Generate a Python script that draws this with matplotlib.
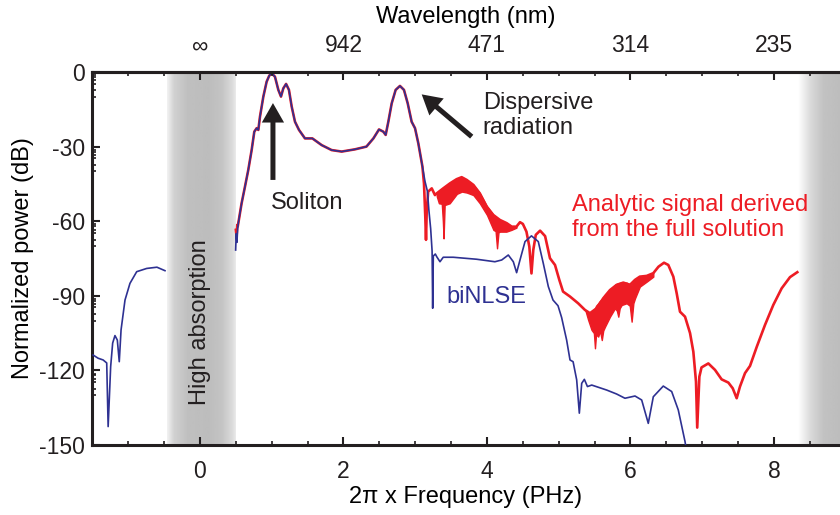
import matplotlib
matplotlib.use("Agg")
import matplotlib.pyplot as plt
import numpy as np

NAVY = "#2E3192"
RED = "#ED1C24"
INK = "#231F20"

plt.rcParams["font.family"] = ["Liberation Sans", "DejaVu Sans"]
plt.rcParams["axes.unicode_minus"] = False
plt.rcParams["text.color"] = INK
plt.rcParams["axes.edgecolor"] = INK
plt.rcParams["xtick.color"] = INK
plt.rcParams["ytick.color"] = INK

# biNLSE below zero frequency
blue_neg_x = [-1.49, -1.42, -1.35, -1.30, -1.28, -1.245, -1.217, -1.185, -1.152, -1.125,
              -1.10, -1.045, -0.976, -0.882, -0.743, -0.60, -0.488]
blue_neg_y = [-113.8, -115.1, -115.8, -117.0, -142.6, -118.5, -109.0, -106.0, -107.8, -116.5,
              -103.7, -91.7, -85.0, -80.3, -79.0, -78.5, -79.9]

# start of each curve just above the absorption band
blue_head_x = [0.497, 0.505, 0.515, 0.525]
blue_head_y = [-71.6, -65.0, -68.5, -63.0]
red_head_x = [0.50, 0.51, 0.52, 0.527]
red_head_y = [-63.5, -66.0, -61.5, -62.0]

# soliton + dispersive wave, where both curves overlap
shared_x = [0.534, 0.58, 0.627, 0.673, 0.72, 0.757, 0.79, 0.813, 0.836, 0.883, 0.929, 0.965,
            0.999, 1.045, 1.092, 1.129, 1.161, 1.20, 1.24, 1.278, 1.324, 1.38, 1.463, 1.566,
            1.696, 1.835, 1.975, 2.16, 2.32, 2.417, 2.495, 2.555, 2.588, 2.625, 2.672, 2.727,
            2.787, 2.843, 2.895, 2.95, 2.997, 3.043, 3.10]
shared_y = [-60.8, -52.8, -46.1, -39.4, -31.4, -24.0, -22.6, -23.3, -18.0, -9.9, -3.9, -1.5,
            -0.5, -1.9, -7.2, -9.9, -6.6, -4.8, -7.2, -13.9, -20.0, -23.3, -26.7, -26.7,
            -29.4, -31.4, -32.0, -31.1, -30.0, -26.7, -23.1, -24.0, -25.3, -20.0, -12.6, -7.2,
            -5.6, -7.2, -12.6, -20.0, -22.6, -28.7, -38.0]

# biNLSE tail
blue_tail_x = [3.136, 3.17, 3.19, 3.215, 3.235, 3.243, 3.252, 3.28, 3.30, 3.345, 3.39, 3.53,
               3.856, 4.11, 4.205, 4.297, 4.367, 4.413, 4.46, 4.53, 4.62, 4.715, 4.785, 4.855,
               4.92, 4.99, 5.04, 5.11, 5.157, 5.20, 5.25, 5.287, 5.32, 5.357, 5.40, 5.46,
               5.668, 5.807, 5.923, 6.063, 6.156, 6.248, 6.318, 6.457, 6.574, 6.666, 6.76, 6.80]
blue_tail_y = [-44.0, -48.0, -55.5, -63.0, -72.0, -95.0, -74.0, -73.2, -74.3, -76.3, -74.5, -74.5,
               -75.3, -76.3, -75.6, -73.6, -76.3, -80.7, -75.6, -68.2, -65.9, -68.2, -77.0, -86.3,
               -91.7, -94.0, -98.7, -107.8, -115.8, -116.5, -123.8, -137.2, -125.2, -123.6, -126.5, -125.9,
               -127.9, -129.5, -131.2, -130.3, -131.9, -141.3, -130.6, -126.3, -128.5, -135.9, -148.6, -156.0]

# analytic signal tail
red_tail_x = [3.122, 3.14, 3.15, 3.16, 3.18, 3.23, 3.275, 3.30, 3.39, 3.484, 3.577, 3.647,
              3.717, 3.81, 3.90, 3.996, 4.088, 4.18, 4.275, 4.345, 4.41, 4.46, 4.50, 4.55,
              4.59, 4.62, 4.645, 4.68, 4.74, 4.81, 4.878, 4.948, 5.008, 5.06, 5.157, 5.27,
              5.366, 5.435, 5.53, 5.62, 5.714, 5.807, 5.90, 5.993, 6.063, 6.13, 6.226, 6.318,
              6.39, 6.467, 6.527, 6.597, 6.644, 6.69, 6.76, 6.83, 6.876, 6.913, 6.93, 6.96,
              6.99, 7.085, 7.178, 7.27, 7.364, 7.425, 7.48, 7.526, 7.596, 7.666, 7.76, 7.875,
              7.99, 8.107, 8.223, 8.325]
red_tail_y = [-44.8, -58.0, -67.5, -56.0, -48.1, -46.8, -49.5, -48.8, -46.8, -44.8, -43.1, -42.3,
              -43.4, -45.4, -48.8, -54.1, -57.5, -59.5, -60.8, -62.2, -62.2, -60.4, -61.1, -64.2,
              -70.2, -81.0, -71.6, -65.5, -63.8, -66.0, -74.9, -77.6, -83.6, -88.3, -90.3, -93.0,
              -95.7, -97.0, -95.0, -91.0, -87.7, -85.6, -84.7, -85.6, -83.6, -82.3, -82.0, -80.9,
              -78.3, -76.7, -77.6, -82.3, -89.0, -96.4, -98.4, -105.0, -112.5, -124.5, -143.0, -122.5,
              -118.8, -117.2, -119.8, -123.6, -124.9, -127.2, -131.2, -126.5, -121.1, -118.2, -110.5, -101.7,
              -93.7, -87.0, -82.5, -80.5]

# fast oscillations of the analytic signal, drawn as envelope bands
noise1_x = [3.30, 3.33, 3.37, 3.385, 3.395, 3.41, 3.48, 3.58, 3.65, 3.72, 3.81, 3.90,
            4.00, 4.09, 4.12, 4.14, 4.16, 4.18, 4.27, 4.34, 4.41]
noise1_hi = [-48.8, -48.0, -47.2, -46.9, -46.7, -46.4, -44.8, -43.0, -42.3, -43.4, -45.4, -48.8,
             -54.1, -57.5, -58.2, -58.8, -59.2, -59.5, -60.8, -62.2, -62.2]
noise1_lo = [-50.0, -52.8, -53.0, -60.0, -66.9, -53.5, -52.8, -49.0, -48.1, -48.5, -49.5, -52.8,
             -57.5, -63.5, -64.0, -70.9, -64.5, -64.2, -64.2, -63.5, -62.6]

noise2_x = [5.37, 5.41, 5.457, 5.49, 5.505, 5.52, 5.55, 5.575, 5.60, 5.62, 5.645, 5.714,
            5.784, 5.81, 5.83, 5.85, 5.877, 5.946, 5.99, 6.016, 6.04, 6.063, 6.13, 6.226, 6.318]
noise2_hi = [-95.7, -96.8, -96.5, -95.5, -95.0, -94.0, -93.0, -92.0, -91.5, -91.0, -89.5, -87.7,
             -85.6, -85.2, -85.0, -84.8, -84.7, -84.7, -85.4, -85.6, -84.5, -83.6, -82.3, -82.0, -80.9]
noise2_lo = [-95.7, -99.7, -103.7, -105.0, -111.1, -105.5, -106.4, -104.0, -107.8, -104.0, -102.4, -98.4,
             -95.0, -96.0, -98.4, -95.0, -93.7, -93.0, -94.0, -100.4, -93.0, -91.0, -86.3, -84.3, -82.3]

top_ticks = [0, 2, 4, 6, 8]
top_labels = ["\u221e", "942", "471", "314", "235"]

fig = plt.figure(figsize=(8.4, 5.15), dpi=100)
ax = fig.add_axes([92 / 840, 70 / 515, 748 / 840, 373 / 515])
XMIN, XMAX = -1.505, 8.92

# absorption bands (gradient shading)
band = np.interp(np.linspace(0, 1, 200), [0, 0.1, 0.3, 0.6, 0.8, 0.95, 1.0],
                 [0.95, 0.82, 0.75, 0.74, 0.77, 0.86, 0.92])
ax.imshow(band[np.newaxis, :], extent=[-0.46, 0.49, -150, 0], aspect="auto",
          cmap="gray", vmin=0, vmax=1, zorder=0, interpolation="bilinear")
band_r = np.interp(np.linspace(0, 1, 200), [0, 0.3, 0.6, 1.0], [1.0, 0.85, 0.76, 0.74])
ax.imshow(band_r[np.newaxis, :], extent=[8.33, XMAX, -150, 0], aspect="auto",
          cmap="gray", vmin=0, vmax=1, zorder=0, interpolation="bilinear")

red_x = red_head_x + shared_x + red_tail_x
red_y = red_head_y + shared_y + red_tail_y
blue_x = blue_head_x + shared_x + blue_tail_x
blue_y = blue_head_y + shared_y + blue_tail_y

ax.fill_between(noise1_x, noise1_lo, noise1_hi, color=RED, lw=1.0, zorder=2)
ax.fill_between(noise2_x, noise2_lo, noise2_hi, color=RED, lw=1.0, zorder=2)
ax.plot(red_x, red_y, color=RED, lw=1.9, zorder=2, solid_joinstyle="round")
ax.plot(blue_x, blue_y, color=NAVY, lw=1.2, zorder=3)
ax.plot(blue_neg_x, blue_neg_y, color=NAVY, lw=1.2, zorder=3)

ax.set_xlim(XMIN, XMAX)
ax.set_ylim(-150, 0)

ax.set_xticks([0, 2, 4, 6, 8])
ax.set_xticks(np.arange(-1.5, 9.0, 0.5), minor=True)
ax.set_yticks([0, -30, -60, -90, -120, -150])
ax.set_yticks([m + o for m in [0, -30, -60, -90, -120] for o in [-1.3, -2.0, -3.4, -4.7, -7.4, -10.0]],
              minor=True)
ax.tick_params(axis="both", which="major", direction="in", length=6, width=1.5,
               labelsize=16.5)
ax.tick_params(axis="x", which="major", pad=11)
ax.tick_params(axis="y", which="major", pad=5)
ax.tick_params(axis="both", which="minor", direction="in", length=3, width=1.2)
ax.tick_params(axis="x", top=False)

for side in ["left", "bottom", "top"]:
    ax.spines[side].set_linewidth(2.2)
ax.spines["right"].set_visible(False)

ax.set_xlabel("2\u03c0 x Frequency (PHz)", fontsize=17, labelpad=2)
ax.set_ylabel("Normalized power (dB)", fontsize=17)
ax.yaxis.set_label_coords(-0.078, 0.5)

ax2 = ax.twiny()
ax2.set_xlim(XMIN, XMAX)
ax2.set_xticks(top_ticks)
ax2.set_xticklabels(top_labels)
ax2.set_xticks(np.arange(-1.5, 9.0, 0.5), minor=True)
ax2.tick_params(axis="x", which="major", direction="in", length=6, width=1.5,
                labelsize=16.5, pad=10.5)
ax2.tick_params(axis="x", which="minor", direction="in", length=3, width=1.2)
for side in ["left", "right", "bottom"]:
    ax2.spines[side].set_visible(False)
ax2.spines["top"].set_linewidth(2.2)
ax2.set_xlabel("Wavelength (nm)", fontsize=17, labelpad=8)

# annotations
arrow = dict(arrowstyle="simple,head_length=0.7,head_width=0.8,tail_width=0.18",
             mutation_scale=20, fc=INK, ec=INK, lw=0, shrinkA=0, shrinkB=0)
ax.annotate("", xy=(1.017, -12.5), xytext=(1.017, -43.4), arrowprops=arrow, zorder=5)
ax.annotate("", xy=(3.09, -9.0), xytext=(3.787, -26.0), arrowprops=arrow, zorder=5)
ax.text(1.49, -52.7, "Soliton", fontsize=17, ha="center", va="center")
ax.text(3.94, -17.6, "Dispersive\nradiation", fontsize=17, ha="left", va="center")
ax.text(5.18, -58.4, "Analytic signal derived\nfrom the full solution", fontsize=17,
        color=RED, ha="left", va="center")
ax.text(3.44, -90.3, "biNLSE", fontsize=17, color=NAVY, ha="left", va="center")
ax.text(0.0, -100.4, "High absorption", fontsize=17, rotation=90, ha="center", va="center")

fig.savefig("out.png", dpi=100)
